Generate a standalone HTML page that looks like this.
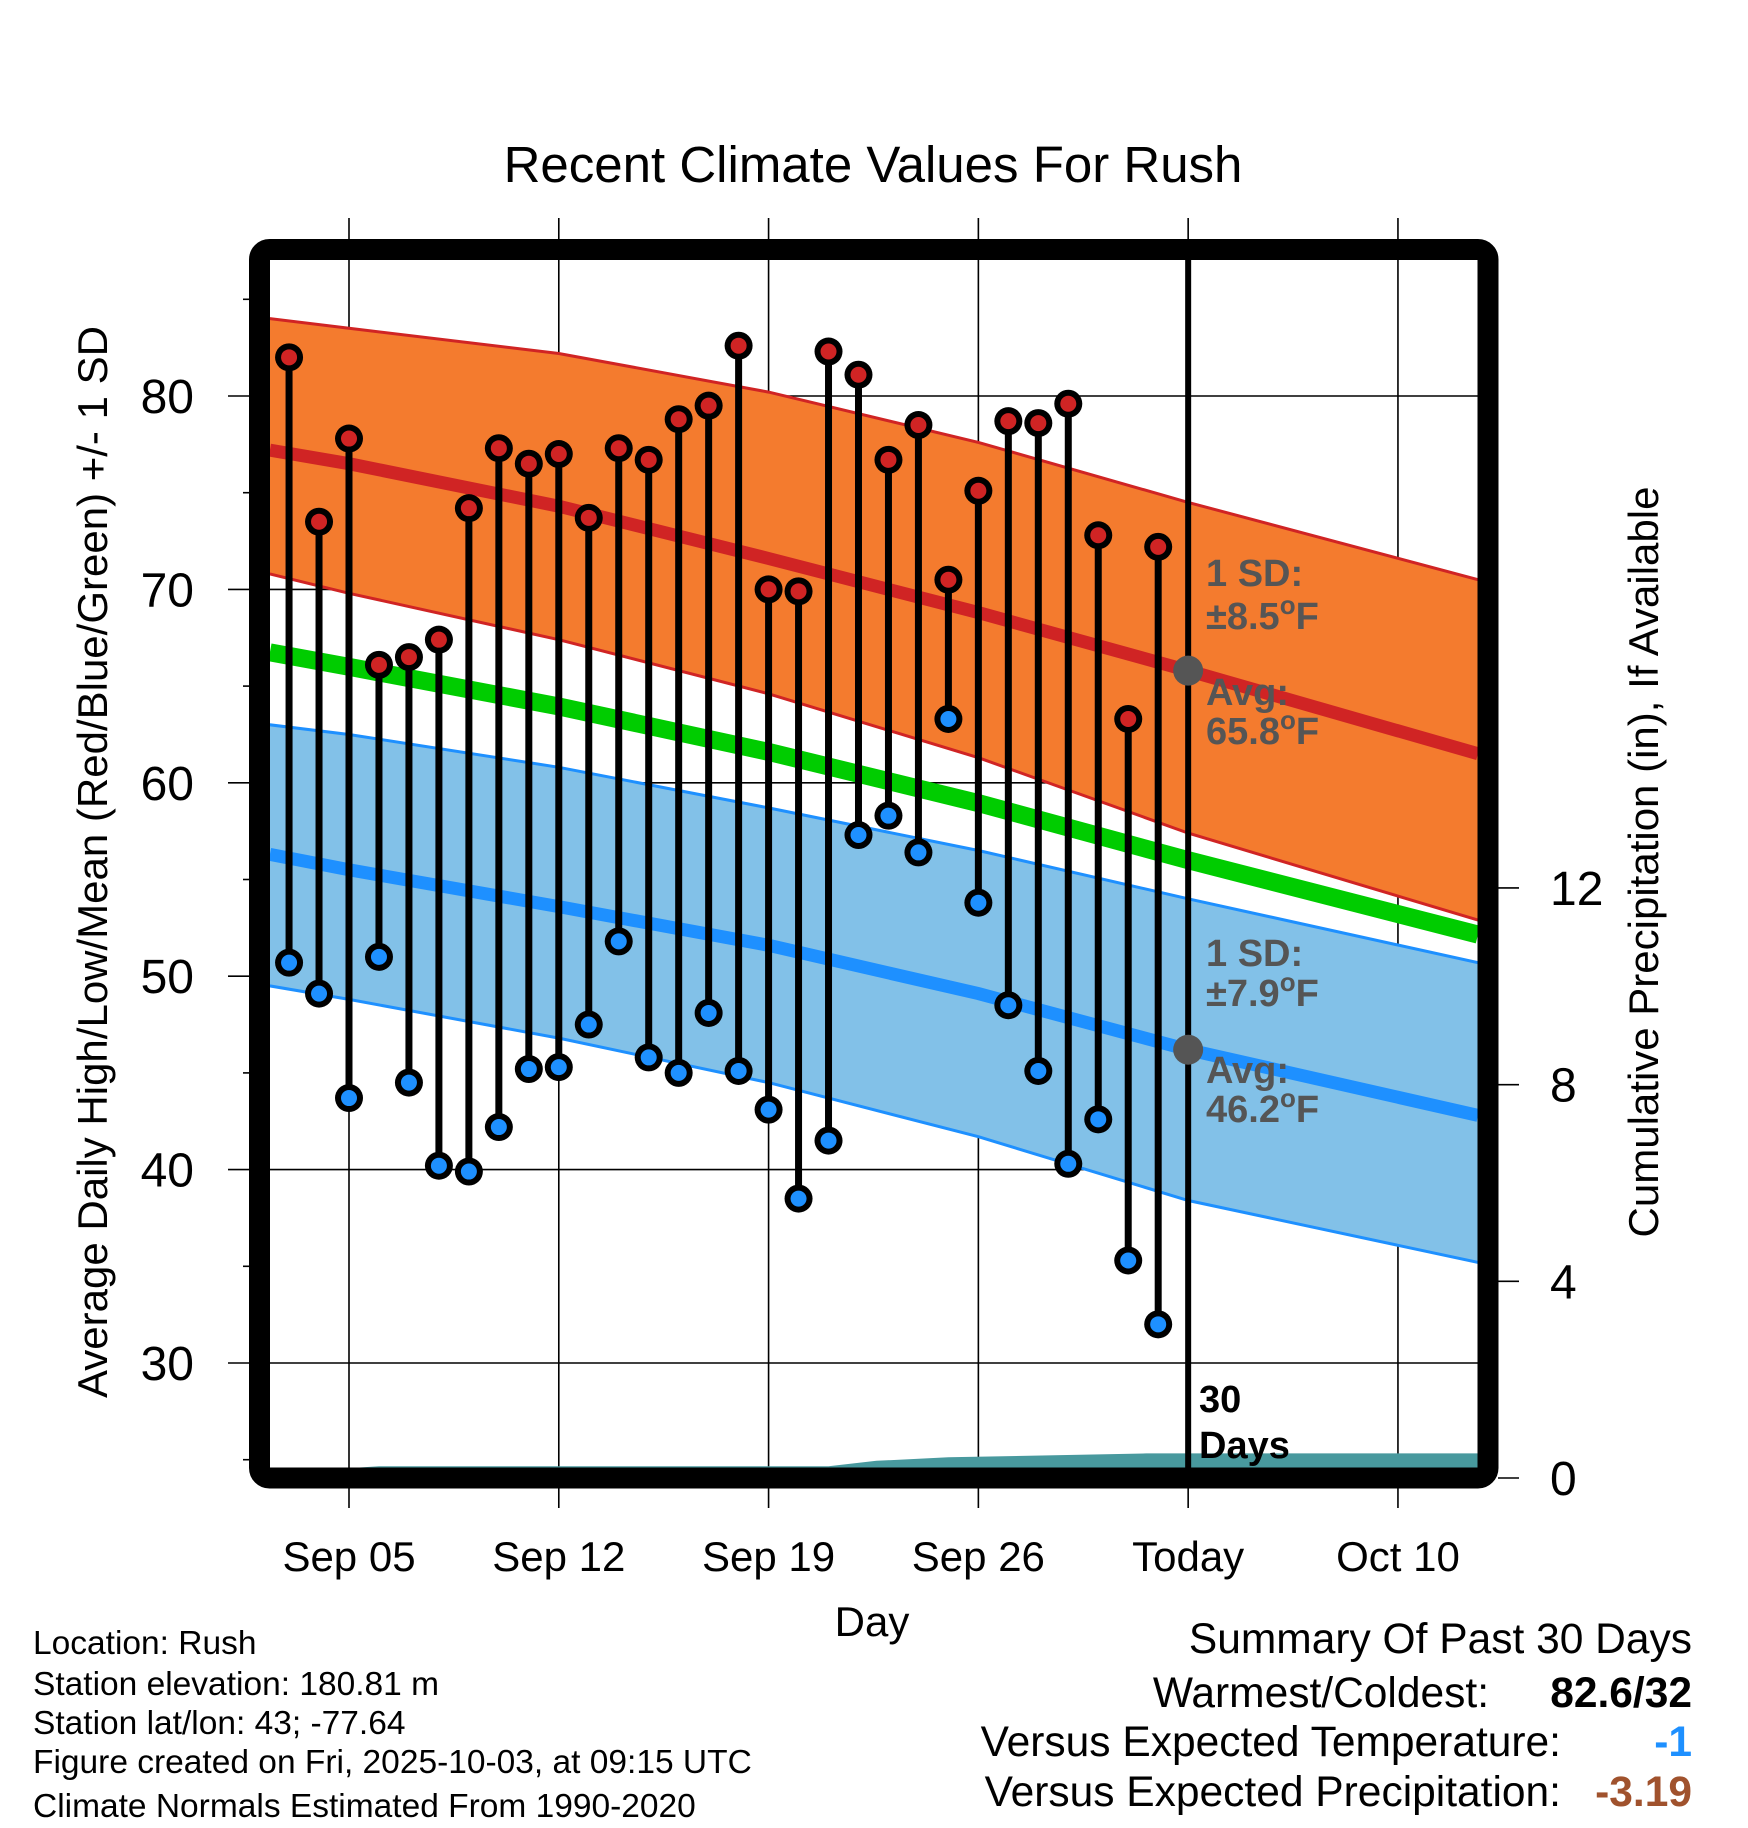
<!DOCTYPE html>
<html><head><meta charset="utf-8"><style>
html,body{margin:0;padding:0;background:#fff}
svg{display:block;font-family:"Liberation Sans",sans-serif}
</style></head><body>
<svg id="chart" width="1748" height="1828" viewBox="0 0 1748 1828" xmlns="http://www.w3.org/2000/svg">
<defs><clipPath id="plotclip"><rect x="270" y="260" width="1208" height="1208"/></clipPath></defs>
<text x="873" y="182" font-size="51" text-anchor="middle">Recent Climate Values For Rush</text>
<g id="grid"></g>
<g id="bands" clip-path="url(#plotclip)"></g>
<g id="marks"></g>
<rect x="259.5" y="249.5" width="1228.5" height="1228.5" rx="10" fill="none" stroke="#000" stroke-width="21"/>
<g id="axes"></g>
<text transform="translate(107,862) rotate(-90)" font-size="42" text-anchor="middle">Average Daily High/Low/Mean (Red/Blue/Green) +/- 1 SD</text>
<text transform="translate(1658,862) rotate(-90)" font-size="42" text-anchor="middle">Cumulative Precipitation (in), If Available</text>
<text x="872" y="1636" font-size="42" text-anchor="middle">Day</text>
<g font-size="33.5">
<text x="33" y="1654">Location: Rush</text>
<text x="33" y="1695">Station elevation: 180.81 m</text>
<text x="33" y="1734">Station lat/lon: 43; -77.64</text>
<text x="33" y="1773">Figure created on Fri, 2025-10-03, at 09:15 UTC</text>
<text x="33" y="1817">Climate Normals Estimated From 1990-2020</text>
</g>
<g font-size="42.5" text-anchor="end">
<text x="1692" y="1653">Summary Of Past 30 Days</text>
<text x="1489" y="1707">Warmest/Coldest:</text>
<text x="1692" y="1707" font-weight="bold">82.6/32</text>
<text x="1561" y="1756">Versus Expected Temperature:</text>
<text x="1692" y="1756" font-weight="bold" fill="#1e90ff">-1</text>
<text x="1561" y="1806">Versus Expected Precipitation:</text>
<text x="1692" y="1806" font-weight="bold" fill="#a0522d">-3.19</text>
</g>
</svg>
<script>
// day offsets relative to Sep 05
const dayOffsets = [-2,-1,0,1,2,3,4,5,6,7,8,9,10,11,12,13,14,15,16,17,18,19,20,21,22,23,24,25,26,27];
const highs = [82,73.5,77.8,66.1,66.5,67.4,74.2,77.3,76.5,77,73.7,77.3,76.7,78.8,79.5,82.6,70,69.9,82.3,81.1,76.7,78.5,70.5,75.1,78.7,78.6,79.6,72.8,63.3,72.2];
const lows = [50.7,49.1,43.7,51,44.5,40.2,39.9,42.2,45.2,45.3,47.5,51.8,45.8,45,48.1,45.1,43.1,38.5,41.5,57.3,58.3,56.4,63.3,53.8,48.5,45.1,40.3,42.6,35.3,32];
// normals sampled at day offsets
const normDays = [-2.64,0,7,14,21,28,37.67];
const highUpper = [84.0,83.5,82.2,80.2,77.6,74.5,70.5];
const highMean = [77.2,76.5,74.3,71.6,68.8,65.8,61.5];
const highLower = [70.8,69.8,67.4,64.6,61.3,57.4,52.9];
const lowUpper = [63.0,62.5,60.8,58.7,56.5,54.0,50.7];
const lowMean = [56.3,55.5,53.6,51.6,49.1,46.2,42.8];
const lowLower = [49.5,48.8,46.8,44.5,41.7,38.4,35.2];
const precipDays = [-2.64,0,1,16,17.6,20,26.6,28,37.67];
const precipVals = [0,0.2,0.24,0.24,0.35,0.42,0.5,0.5,0.5];
const xTickDays = [0,7,14,21,28,35];
const xTickLabels = ["Sep 05","Sep 12","Sep 19","Sep 26","Today","Oct 10"];
const yTicks = [30,40,50,60,70,80];
const yMinor = [25,35,45,55,65,75,85];
const pTicks = [0,4,8,12];
const todayDay = 28;

const X = d => 349 + d*29.97;
const Y = t => 396 + (80 - t)*19.34;
const P = p => 1478 - p*49.17;
const NS = "http://www.w3.org/2000/svg";
function mk(parent, tag, attrs){const e=document.createElementNS(NS,tag);for(const k in attrs)e.setAttribute(k,attrs[k]);document.getElementById(parent).appendChild(e);return e;}
const pts = (ds, vs, f) => ds.map((d,i)=>X(d).toFixed(1)+","+f(vs[i]).toFixed(1));

// grid
xTickDays.forEach((d,i)=>{
  const l = mk('grid','line',{x1:X(d),x2:X(d),y1:218,y2:1508,stroke:'#000','stroke-width':1.6});
  
  
  const t = mk('axes','text',{x:X(d),y:1571,'font-size':42,'text-anchor':'middle'});
  t.textContent = xTickLabels[i];
  
  
});
yTicks.forEach(v=>{
  const l = mk('grid','line',{x1:228,x2:1478,y1:Y(v),y2:Y(v),stroke:'#000','stroke-width':1.6});
  
  
  const t = mk('axes','text',{x:194,y:Y(v)+17,'font-size':48,'text-anchor':'end'});
  t.textContent = v;
  
  
});
yMinor.forEach(v=>{
  const l = mk('grid','line',{x1:243,x2:252,y1:Y(v),y2:Y(v),stroke:'#000','stroke-width':1.6});
  
  
});
pTicks.forEach(v=>{
  const l = mk('axes','line',{x1:1498,x2:1519,y1:P(v),y2:P(v),stroke:'#000','stroke-width':1.6});
  
  
  const t = mk('axes','text',{x:1550,y:P(v)+17,'font-size':48});
  t.textContent = v;
  
  
});

// bands
function band(name, up, lo, fill, edge){
  const poly = pts(normDays,up,Y).concat(pts(normDays,lo,Y).reverse()).join(' ');
  const p = mk('bands','polygon',{points:poly,fill:fill});
  
  
  [up,lo].forEach(arr=>{
    const e = mk('bands','polyline',{points:pts(normDays,arr,Y).join(' '),fill:'none',stroke:edge,'stroke-width':3});
    
    
  });
}
band('low-sd-band',lowUpper,lowLower,'#82c1e8','#1e90ff');
band('high-sd-band',highUpper,highLower,'#f47b2e','#d02424');
const meanVals = highMean.map((h,i)=>(h+lowMean[i])/2);
const gm = mk('bands','polyline',{points:pts(normDays,meanVals,Y).join(' '),fill:'none',stroke:'#00cc00','stroke-width':18});


const hm = mk('bands','polyline',{points:pts(normDays,highMean,Y).join(' '),fill:'none',stroke:'#d02424','stroke-width':13});


const lm = mk('bands','polyline',{points:pts(normDays,lowMean,Y).join(' '),fill:'none',stroke:'#1e90ff','stroke-width':13});


const pp = pts(precipDays,precipVals,P);
const pr = mk('bands','polygon',{points:[X(precipDays[0]).toFixed(1)+','+P(0)].concat(pp,[X(precipDays[precipDays.length-1]).toFixed(1)+','+P(0)]).join(' '),fill:'#48999e'});



// daily marks
dayOffsets.forEach((d,i)=>{
  const s = mk('marks','line',{x1:X(d),x2:X(d),y1:Y(highs[i]),y2:Y(lows[i]),stroke:'#000','stroke-width':7});
  
  
  [[highs[i],'#d02424','high-point'],[lows[i],'#1e90ff','low-point']].forEach(([v,c,n])=>{
    const o = mk('marks','circle',{cx:X(d),cy:Y(v),r:14,fill:'#000'});
    
    
    const c2 = mk('marks','circle',{cx:X(d),cy:Y(v),r:8,fill:c});
    
    
  });
});

// today line + annotations
const tx = X(todayDay);
const tl = mk('marks','line',{x1:tx,x2:tx,y1:260,y2:1470,stroke:'#000','stroke-width':6});


[[highMean[5],'today-high-normal-dot'],[lowMean[5],'today-low-normal-dot']].forEach(([v,n])=>{
  const c = mk('marks','circle',{cx:tx,cy:Y(v),r:15,fill:'#555'});
  
  
});
function lbl(x,y,txt,name,fill,size){
  const t = mk('marks','text',{x:x,y:y,'font-size':size||38,'font-weight':'bold',fill:fill||'#555'});
  t.innerHTML = txt;
  
  
}
const deg = '<tspan dy="-15" font-size="26">o</tspan><tspan dy="15">F</tspan>';
lbl(1206,586,'1 SD:','high-sd-label');
lbl(1206,629,'±8.5'+deg,'high-sd-value');
lbl(1206,705,'Avg:','high-avg-label');
lbl(1206,744,'65.8'+deg,'high-avg-value');
lbl(1206,966,'1 SD:','low-sd-label');
lbl(1206,1006,'±7.9'+deg,'low-sd-value');
lbl(1206,1083,'Avg:','low-avg-label');
lbl(1206,1122,'46.2'+deg,'low-avg-value');
lbl(1199,1412,'30','days-count-label','#000');
lbl(1199,1458,'Days','days-label','#000');
</script>
</body></html>
